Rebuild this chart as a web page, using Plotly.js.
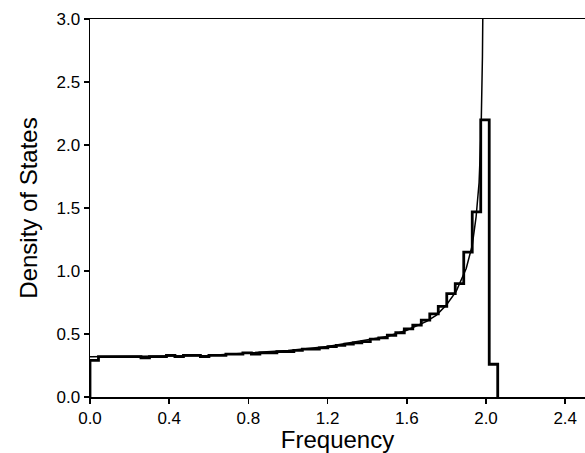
<!DOCTYPE html>
<html>
<head>
<meta charset="utf-8">
<script src="https://cdn.plot.ly/plotly-3.0.1.min.js"></script>
<style>html,body{margin:0;padding:0;background:#fff;}#chart{width:585px;height:453px;}</style>
</head>
<body>
<div id="chart"></div>
<script>
// Histogram of sampled frequencies (bin width and bar heights)
const binWidth = 0.0429;
const histDensity = [
  0.29, 0.32, 0.32, 0.32, 0.32, 0.32, 0.31, 0.32, 0.32, 0.33,
  0.32, 0.33, 0.33, 0.32, 0.33, 0.33, 0.34, 0.34, 0.35, 0.34,
  0.35, 0.35, 0.36, 0.36, 0.37, 0.38, 0.38, 0.39, 0.40, 0.41,
  0.42, 0.43, 0.44, 0.46, 0.47, 0.49, 0.51, 0.54, 0.57, 0.61,
  0.66, 0.72, 0.82, 0.90, 1.15, 1.47, 2.20, 0.26
];
// Analytic density-of-states curve
const curveFreq = [0.0, 0.2, 0.4, 0.6, 0.8, 1.0, 1.2, 1.4, 1.5, 1.6, 1.7, 1.75, 1.8, 1.85, 1.9, 1.93, 1.95, 1.965, 1.975, 1.982, 1.986];
const curveDens = [0.32, 0.32, 0.325, 0.33, 0.35, 0.37, 0.40, 0.45, 0.48, 0.53, 0.60, 0.65, 0.73, 0.84, 1.02, 1.20, 1.43, 1.70, 2.10, 2.70, 3.40];
const xTicks = [0.0, 0.4, 0.8, 1.2, 1.6, 2.0, 2.4];
const yTicks = [0.0, 0.5, 1.0, 1.5, 2.0, 2.5, 3.0];

const hx = [0], hy = [0];
histDensity.forEach((v, i) => { hx.push(i * binWidth); hy.push(v); });
hx.push(histDensity.length * binWidth); hy.push(0);

const traces = [
  {x: curveFreq, y: curveDens, mode: 'lines', line: {color: '#000', width: 1.5}, hoverinfo: 'skip'},
  {x: hx, y: hy, mode: 'lines', line: {color: '#000', width: 2.8, shape: 'hv'}, hoverinfo: 'skip'}
];
const fam = 'Liberation Sans, Arial, Helvetica, sans-serif';
const tickFont = {family: fam, size: 17, color: '#000'};
const titleFont = {family: fam, size: 24, color: '#000'};
const layout = {
  width: 585, height: 453,
  margin: {l: 90, r: 0, t: 19, b: 56},
  paper_bgcolor: '#fff', plot_bgcolor: '#fff',
  showlegend: false,
  xaxis: {
    range: [0, 2.5], tickvals: xTicks, ticktext: xTicks.map(v => v.toFixed(1)),
    ticks: 'outside', ticklen: 5, tickwidth: 1.5, tickcolor: '#000',
    showline: true, linecolor: '#000', linewidth: 1.5, mirror: true,
    showgrid: false, zeroline: false, tickfont: tickFont,
    title: {text: 'Frequency', font: titleFont, standoff: 3}
  },
  yaxis: {
    range: [0, 3.0], tickvals: yTicks, ticktext: yTicks.map(v => v.toFixed(1)),
    ticks: 'outside', ticklen: 5, tickwidth: 1.5, tickcolor: '#000',
    showline: true, linecolor: '#000', linewidth: 1.5, mirror: true,
    showgrid: false, zeroline: false, tickfont: tickFont,
    title: {text: 'Density of States', font: titleFont, standoff: 12}
  }
};
Plotly.newPlot('chart', traces, layout, {staticPlot: true, displayModeBar: false});
</script>
</body>
</html>
